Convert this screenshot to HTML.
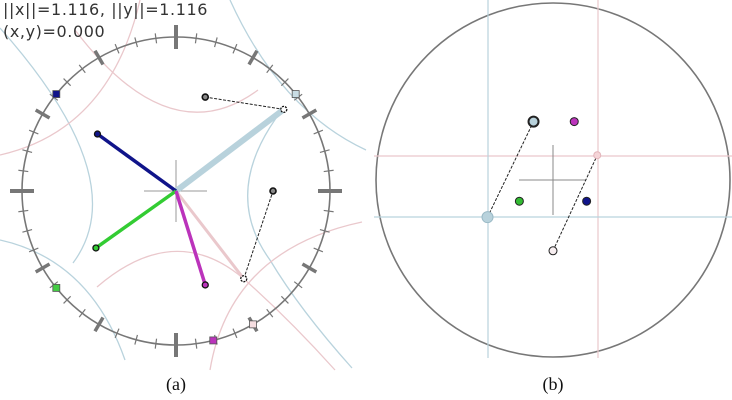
<!DOCTYPE html>
<html><head><meta charset="utf-8"><style>
html,body{margin:0;padding:0;background:#fff;width:732px;height:400px;overflow:hidden}
svg{display:block}
</style></head><body>
<svg id="fig" width="732" height="400" viewBox="0 0 732 400">
<g id="panelA">
 <g fill="none" stroke-width="1.3">
  <path d="M0,28 Q135,180 73,263" stroke="#b9d3dd"/>
  <path d="M230,0 Q280,110 366,150" stroke="#b9d3dd"/>
  <path d="M282,110 Q220,191 270,260 Q300,310 352,368" stroke="#b9d3dd"/>
  <path d="M0,240 Q90,260 125,360" stroke="#b9d3dd"/>
  <path d="M0,155 Q110,130 140,0" stroke="#eac8cc"/>
  <path d="M75,30 Q170,155 258,90" stroke="#eac8cc"/>
  <path d="M97,287 Q175,220 244,279 Q290,320 335,370" stroke="#eac8cc"/>
  <path d="M210,370 Q230,250 362,222" stroke="#eac8cc"/>
 </g>
 <circle cx="176" cy="191" r="154" fill="none" stroke="#777" stroke-width="1.6"/>
 <g id="ticks"></g>
 <g stroke="#999" stroke-width="1">
  <line x1="144" y1="191" x2="207" y2="191"/><line x1="176" y1="160" x2="176" y2="222"/>
 </g>
 <g id="vecs"></g>
 <text x="3" y="15" font-family="DejaVu Sans, sans-serif" font-size="16" letter-spacing="0.6" fill="#333">||x||=1.116, ||y||=1.116</text>
 <text x="3" y="37" font-family="DejaVu Sans, sans-serif" font-size="16" letter-spacing="0.6" fill="#333">(x,y)=0.000</text>
 <text x="176" y="390" text-anchor="middle" font-family="Liberation Serif, serif" font-size="18" fill="#111">(a)</text>
</g>
<g id="panelB">
 <circle cx="553" cy="180" r="177" fill="none" stroke="#777" stroke-width="1.6"/>
 <g stroke-width="1.2">
  <line x1="598" y1="0" x2="598" y2="358" stroke="#eac8cc"/>
  <line x1="374" y1="156" x2="732" y2="156" stroke="#eac8cc"/>
  <line x1="488" y1="0" x2="488" y2="358" stroke="#b9d3dd"/>
  <line x1="374" y1="217" x2="732" y2="217" stroke="#b9d3dd"/>
 </g>
 <g stroke="#888" stroke-width="1">
  <line x1="519" y1="180" x2="586" y2="180"/><line x1="553" y1="145" x2="553" y2="215"/>
 </g>
 <g id="pts"></g>
 <text x="553" y="390" text-anchor="middle" font-family="Liberation Serif, serif" font-size="18" fill="#111">(b)</text>
</g>
</svg>
<script>
// Panel (a): vector endpoints in unit-circle coordinates (x right, y up)
const vecNames = ['blue','green','magenta','lightblue','pink'];
const vecX = [-0.51, -0.52, 0.19, 0.70, 0.44];
const vecY = [0.37, -0.37, -0.61, 0.53, -0.57];
const vecColors = ['#10148a','#33cc33','#bb33bb','#b8d2dc','#eac8cc'];
const vecWidths = [3.5, 3.5, 3.5, 6, 3];
const tipDots = [true, true, true, false, false];
const sqAngles = [141, 39, 219, 300, 284];  // squares on circle (deg)
const sqColors = ['#10148a','#c9dde4','#44cc44','#f5dde0','#bb33bb'];
// Panel (b): scatter points
const ptX = [-0.11, 0.12, -0.19, 0.19, 0.25, 0.00, -0.37];
const ptY = [0.33, 0.33, -0.12, -0.12, 0.14, -0.40, -0.21];
const ptColors = ['#b8d2dc','#bb33bb','#33bb33','#10148a','#f5d5d8','#f7eef0','#b8d2dc'];
const ptR = [5, 4, 4, 4, 3.5, 4, 5.5];

const NS='http://www.w3.org/2000/svg';
function mk(t,a,p){const e=document.createElementNS(NS,t);for(const k in a)e.setAttribute(k,a[k]);p.appendChild(e);return e;}
const ax=v=>176+v*154, ay=v=>191-v*154;
const bx=v=>553+v*177, by=v=>180-v*177;

const tg=document.getElementById('ticks');
for(let i=0;i<48;i++){
  const a=i*7.5*Math.PI/180; const major=i%12==0, mid=i%4==0;
  const l=major?12:mid?8:5, w=major?4:mid?3.5:1.2;
  const t=mk('line',{x1:ax((1-l/154)*Math.cos(a)),y1:ay((1-l/154)*Math.sin(a)),x2:ax((1+l/154)*Math.cos(a)),y2:ay((1+l/154)*Math.sin(a)),stroke:'#777','stroke-width':w},tg);
  
  
}
const vg=document.getElementById('vecs');
const ctrlX=[0.19,0.63], ctrlY=[0.61,0.0];
[[3,0],[4,1]].forEach(([vi,ci])=>{
  const l=mk('line',{x1:ax(vecX[vi]),y1:ay(vecY[vi]),x2:ax(ctrlX[ci]),y2:ay(ctrlY[ci]),stroke:'#222','stroke-width':1,'stroke-dasharray':'3,1.5'},vg);
  
  
});
[4,3,0,1,2].forEach(i=>{
  const l=mk('line',{x1:ax(0),y1:ay(0),x2:ax(vecX[i]),y2:ay(vecY[i]),stroke:vecColors[i],'stroke-width':vecWidths[i]},vg);
  
  
  const c=mk('circle',{cx:ax(vecX[i]),cy:ay(vecY[i]),r:3,fill:tipDots[i]?vecColors[i]:'#fff',stroke:'#111','stroke-width':1.3,'stroke-dasharray':tipDots[i]?'':'2,1'},vg);
  
  
});
for(let j=0;j<2;j++){
  const c=mk('circle',{cx:ax(ctrlX[j]),cy:ay(ctrlY[j]),r:3,fill:'#888',stroke:'#111','stroke-width':1.6},vg);
  
  
}
sqAngles.forEach((d,i)=>{
  const a=d*Math.PI/180;
  const s=mk('rect',{x:ax(Math.cos(a))-3.5,y:ay(Math.sin(a))-3.5,width:7,height:7,fill:sqColors[i],stroke:'#555','stroke-width':0.8},vg);
  
  
});
const pg=document.getElementById('pts');
[[6,0],[5,4]].forEach(([a,b])=>{
  const l=mk('line',{x1:bx(ptX[a]),y1:by(ptY[a]),x2:bx(ptX[b]),y2:by(ptY[b]),stroke:'#222','stroke-width':1,'stroke-dasharray':'3,1.5'},pg);
  
  
});
ptX.forEach((x,i)=>{
  const c=mk('circle',{cx:bx(x),cy:by(ptY[i]),r:ptR[i],fill:ptColors[i],stroke:i==6?'#9bbac6':(i==4?'#e3b5bb':'#222'),'stroke-width':i==0?2:1},pg);
  
  
});
</script>
</body></html>
